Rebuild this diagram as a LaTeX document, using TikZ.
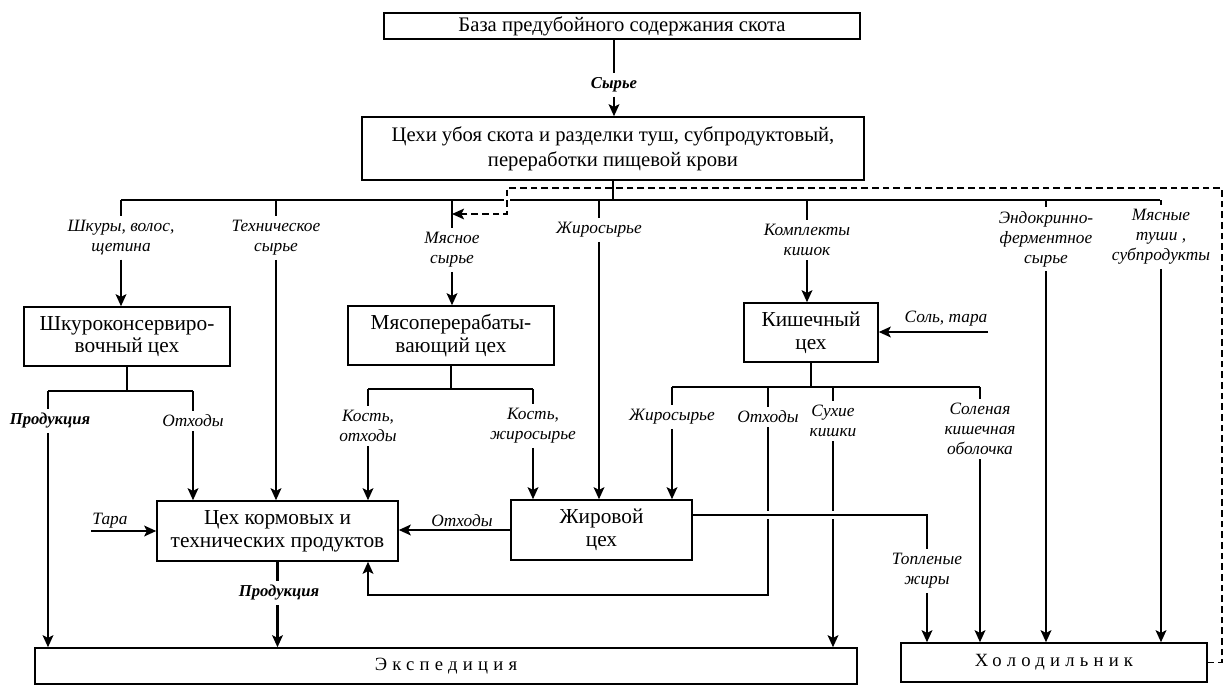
\documentclass[tikz,border=0pt]{standalone}
\usepackage{fontspec}
\setmainfont{Liberation Serif}
\usetikzlibrary{arrows.meta,calc}
\newcommand\myspaced[1]{{\addfontfeature{LetterSpace=28}#1}}
\tikzset{
  box/.style={draw, line width=1.1pt, inner sep=0pt, align=center, font=\fontsize{15.5}{19}\selectfont},
  boxb/.style={box, font=\fontsize{16}{17}\selectfont},
  bx/.style 2 args={minimum width=#1*0.75pt, minimum height=#2*0.75pt},
  lab/.style={font=\fontsize{13}{15}\selectfont\itshape, align=center, inner sep=3pt},
  blab/.style={lab, font=\fontsize{12.5}{15}\selectfont\bfseries\itshape},
  conn/.style={line width=1.8pt},
  arr/.style={conn, -{Stealth[length=9pt,width=8pt,inset=2pt]}},
  dsh/.style={line width=1.4pt, dash pattern=on 5pt off 3pt},
}
\begin{document}
\begin{tikzpicture}[x=0.75pt,y=-0.75pt]
\useasboundingbox (0,0) rectangle (1225,686);
% boxes
\node[box,bx={476}{26}] (baza) at (622,26) {База предубойного содержания скота};
\node[box,bx={502}{63}] (tsekhi) at (613,148.5) {Цехи убоя скота и разделки туш, субпродуктовый,\\переработки пищевой крови};
\node[boxb,bx={206}{59}] (shkuro) at (127,336.5) {Шкуроконсервиро-\\вочный цех};
\node[boxb,bx={206}{59}] (myaso) at (451,335.5) {Мясоперерабаты-\\вающий цех};
\node[boxb,bx={134}{59}] (kish) at (811,332.5) {Кишечный\\цех};
\node[boxb,bx={241}{60}] (korm) at (277.5,531) {Цех кормовых и\\технических продуктов};
\node[boxb,bx={181}{60}] (zhir) at (601.5,530) {Жировой\\цех};
\node[box,bx={822}{36},font=\fontsize{14}{15}\selectfont] (exped) at (446,666) {\myspaced{Экспедиция}};
\node[box,bx={306}{39},font=\fontsize{14}{15}\selectfont] (holod) at (1054,662.5) {\myspaced{Холодильник}};

% top arrow
\node[blab] (syr) at (614,85) {Сырье};
\draw[conn] (syr.north |- baza.south) -- (syr.north);
\draw[arr] (syr.south) -- (syr.south |- tsekhi.north);

% dashed return line points
\coordinate (d2) at (1222,188);
\coordinate (d3) at (507,188);
\coordinate (d4) at (507,214);

% main bus
\coordinate (busL) at (121,200);
\coordinate (busR) at (1160,200);
\draw[conn] (tsekhi.south) -- (tsekhi.south |- busL);
\draw[conn] (busL) -- (busR);
\draw[white, line width=5pt] (d3 |- 0,196) -- (d3 |- 0,204);

\node[lab] (lshk) at (121,238) {Шкуры, волос,\\щетина};
\node[lab] (ltech) at (276,238) {Техническое\\сырье};
\node[lab] (lmyas) at (452,250) {Мясное\\сырье};
\node[lab] (lzhs) at (599,230) {Жиросырье};
\node[lab] (lkompl) at (807,240) {Комплекты\\кишок};
\node[lab] (lendo) at (1046,239) {Эндокринно-\\ферментное\\сырье};
\node[lab] (lmt) at (1161,237) {Мясные\\туши ,\\субпродукты};
\foreach \n in {lshk,ltech,lmyas,lzhs,lkompl,lendo,lmt}
  \draw[conn] (\n.north |- busL) -- (\n.north);
\draw[arr] (lshk.south) -- (lshk.south |- shkuro.north);
\draw[arr] (ltech.south) -- (ltech.south |- korm.north);
\draw[arr] (lmyas.south) -- (lmyas.south |- myaso.north);
\draw[arr] (lzhs.south) -- (lzhs.south |- zhir.north);
\draw[arr] (lkompl.south) -- (lkompl.south |- kish.north);
\draw[arr] (lendo.south) -- (lendo.south |- holod.north);
\draw[arr] (lmt.south) -- (lmt.south |- holod.north);

\draw[dsh, -{Stealth[length=9pt,width=8pt,inset=2pt]}] (holod.east) -- (holod.east -| d2) -- (d2) -- (d3) -- (d4) -- (d4 -| lmyas.north);

% Shkuro outputs
\coordinate (s1) at (48,391);
\coordinate (s2) at (193,391);
\draw[conn] (shkuro.south) -- (shkuro.south |- s1);
\draw[conn] (s1) -- (s2);
\node[blab] (lprod1) at (50,421) {Продукция};
\node[lab] (lotx1) at (193,421) {Отходы};
\draw[conn] (s1) -- (lprod1.north -| s1);
\draw[arr] (lprod1.south -| s1) -- (s1 |- exped.north);
\draw[conn] (s2) -- (lotx1.north);
\draw[arr] (lotx1.south) -- (lotx1.south |- korm.north);

% Myaso outputs
\coordinate (m1) at (368,389);
\coordinate (m2) at (533,389);
\draw[conn] (myaso.south) -- (myaso.south |- m1);
\draw[conn] (m1) -- (m2);
\node[lab] (lkost1) at (368,426) {Кость,\\отходы};
\node[lab] (lkost2) at (533,426) {Кость,\\жиросырье};
\draw[conn] (m1) -- (lkost1.north);
\draw[arr] (lkost1.south) -- (lkost1.south |- korm.north);
\draw[conn] (m2) -- (lkost2.north);
\draw[arr] (lkost2.south) -- (lkost2.south |- zhir.north);

% Kish
\node[lab] (lsalt) at (946,319) {Соль, тара};
\coordinate (saltS) at (988,332);
\draw[arr] (saltS) -- (saltS -| kish.east);
\coordinate (k1) at (672,387);
\coordinate (k2) at (980,387);
\draw[conn] (kish.south) -- (kish.south |- k1);
\draw[conn] (k1) -- (k2);
\node[lab] (lzhs2) at (672,417) {Жиросырье};
\node[lab] (lotx2) at (768,417) {Отходы};
\node[lab] (lsukh) at (833,421) {Сухие\\кишки};
\node[lab] (lsol) at (980,429) {Соленая\\кишечная\\оболочка};
\draw[conn] (lzhs2.north |- k1) -- (lzhs2.north);
\draw[arr] (lzhs2.south) -- (lzhs2.south |- zhir.north);
\draw[conn] (lotx2.north |- k1) -- (lotx2.north);
\coordinate (ret1) at (768,595);
\coordinate (ret2) at (368,595);
\draw[arr] (lotx2.south) -- (ret1) -- (ret2) -- (ret2 |- korm.south);
\draw[conn] (lsukh.north |- k1) -- (lsukh.north);
\draw[arr] (lsukh.south) -- (lsukh.south |- exped.north);
\draw[conn] (lsol.north |- k1) -- (lsol.north);
\draw[arr] (lsol.south) -- (lsol.south |- holod.north);

% Zhir outputs
\node[lab] (lotx3) at (462,521) {Отходы};
\draw[arr] (zhir.west) -- (zhir.west -| korm.east);
\node[lab] (ltopl) at (927,571) {Топленые\\жиры};
\coordinate (zs) at ($(zhir.east)+(0,-15)$);
\coordinate (tp) at (927,515);
\coordinate (g1) at (755,515);
\coordinate (g2) at (845,515);
\draw[white, line width=6pt] (g1) -- (g2);
\draw[conn] (zs) -- (tp) -- (ltopl.north);
\draw[arr] (ltopl.south) -- (ltopl.south |- holod.north);

% Tara
\node[lab] (ltara) at (110,521) {Тара};
\coordinate (taraS) at (91,531);
\draw[arr] (taraS) -- (taraS -| korm.west);

% Produktsiya from korm
\node[blab] (lprod2) at (279,593) {Продукция};
\draw[conn] (korm.south) -- (lprod2.north -| korm.south);
\draw[arr] (lprod2.south -| korm.south) -- (korm.south |- exped.north);
\end{tikzpicture}
\end{document}
